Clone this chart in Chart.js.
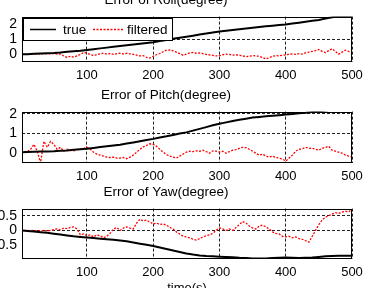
<!DOCTYPE html>
<html><head><meta charset="utf-8">
<script src="https://cdn.jsdelivr.net/npm/chart.js@4.4.1/dist/chart.umd.min.js"></script>
<style>
html,body{margin:0;padding:0;background:#fff;overflow:hidden;width:365px;height:288px;position:relative}
canvas{position:absolute}
</style></head><body>
<canvas id="c1" width="414" height="96" style="left:-20px;top:-10px"></canvas>
<canvas id="c2" width="414" height="102" style="left:-20px;top:85px"></canvas>
<canvas id="c3" width="414" height="117" style="left:-20px;top:182px"></canvas>
<script>
const titles = ["Error of Roll(degree)", "Error of Pitch(degree)", "Error of Yaw(degree)"];
const seriesNames = ["true", "filtered"];
const xAxisTitle = "time(s)";
const xTicks = [100, 200, 300, 400, 500];
const rollTicks = [0, 1, 2];
const pitchTicks = [0, 1, 2];
const yawTicks = [-0.5, 0, 0.5];
const rollGrid = [1];
const pitchGrid = [1, 2];
const yawGrid = [0, 0.5];

const timeTrue = [0,10,20,30,40,50,60,70,80,90,100,110,120,130,140,150,160,170,180,190,200,210,220,230,240,250,260,270,280,290,300,310,320,330,340,350,360,370,380,390,400,410,420,430,440,450,460,470,480,490,500];
const timeFiltered = [0,5,10,15,20,25,30,35,40,45,50,55,60,65,70,75,80,85,90,95,100,105,110,115,120,125,130,135,140,145,150,155,160,165,170,175,180,185,190,195,200,205,210,215,220,225,230,235,240,245,250,255,260,265,270,275,280,285,290,295,300,305,310,315,320,325,330,335,340,345,350,355,360,365,370,375,380,385,390,395,400,405,410,415,420,425,430,435,440,445,450,455,460,465,470,475,480,485,490,495,500];

const rollTrue = [0,0.02,0.04,0.06,0.08,0.1,0.13,0.17,0.21,0.25,0.3,0.35,0.4,0.45,0.5,0.55,0.6,0.65,0.7,0.75,0.8,0.88,0.96,1.03,1.1,1.17,1.24,1.31,1.38,1.45,1.52,1.57,1.62,1.67,1.72,1.77,1.82,1.86,1.9,1.94,1.98,2.04,2.1,2.16,2.22,2.28,2.37,2.46,2.5,2.5,2.5];
const rollFiltered = [0,0,0.02,0,0.03,0.02,0.05,0.03,0.06,0.04,0.06,0.02,0.03,-0.1,-0.2,-0.12,-0.18,-0.1,0,0.13,0.08,0,-0.07,-0.02,0.04,0.08,0.02,0.06,0,0.05,0.08,0.03,0.08,0.04,0,-0.05,-0.1,-0.08,-0.2,-0.24,-0.12,-0.02,0.06,0.18,0.28,0.3,0.24,0.15,0.05,-0.05,0.02,0.1,0.13,0.08,0.1,0.05,0,-0.03,-0.06,-0.1,-0.08,-0.02,0.02,0,-0.05,-0.02,-0.06,-0.1,-0.15,-0.12,-0.08,-0.1,-0.12,-0.2,-0.3,-0.22,-0.12,-0.08,-0.1,-0.05,-0.02,0,0.03,0,0.05,0.02,0.1,0.15,0.2,0.25,0.33,0.2,0.12,0.25,0.38,0.2,0.02,0.15,0.28,0.2,0.15];

const pitchTrue = [0.05,0.06,0.07,0.08,0.09,0.1,0.12,0.14,0.17,0.2,0.23,0.27,0.31,0.35,0.39,0.43,0.49,0.55,0.61,0.67,0.73,0.8,0.86,0.93,1,1.06,1.15,1.24,1.33,1.42,1.5,1.57,1.64,1.7,1.76,1.82,1.85,1.88,1.91,1.94,1.97,2,2.03,2.06,2.1,2.14,2.18,2.22,2.26,2.3,2.34];
const pitchFiltered = [0.05,0.06,0.08,0.2,0.45,0.1,-0.5,0.6,0.3,0.6,0.45,0.2,0.3,0.1,0.2,0.15,0.12,0.18,0.2,0.25,0.3,0.2,0.05,-0.05,-0.1,-0.15,-0.2,-0.22,-0.2,-0.25,-0.25,-0.22,-0.28,-0.2,-0.1,0.05,0.2,0.32,0.4,0.48,0.45,0.35,0.2,0.05,-0.07,-0.15,-0.2,-0.25,-0.15,-0.05,0.05,0.1,0.08,0.12,0.1,0.15,0.08,0,0.12,0.1,0.05,0.1,0,0.08,0.15,0.18,0.25,0.3,0.28,0.2,0.1,0,-0.1,-0.05,-0.15,-0.2,-0.15,-0.22,-0.25,-0.3,-0.4,-0.25,-0.1,0.1,0.2,0.22,0.3,0.25,0.25,0.2,0.15,0.25,0.3,0.35,0.15,0.1,0.05,0,-0.1,-0.15,-0.2];

const yawTrue = [0,-0.02,-0.04,-0.06,-0.08,-0.11,-0.14,-0.17,-0.2,-0.22,-0.24,-0.26,-0.28,-0.3,-0.32,-0.34,-0.37,-0.41,-0.45,-0.49,-0.53,-0.58,-0.63,-0.68,-0.73,-0.78,-0.82,-0.85,-0.87,-0.88,-0.89,-0.9,-0.91,-0.93,-0.94,-0.95,-0.95,-0.95,-0.94,-0.93,-0.92,-0.93,-0.94,-0.93,-0.92,-0.9,-0.88,-0.87,-0.86,-0.86,-0.86];
const yawFiltered = [0,0,0,-0.01,0,-0.02,-0.01,0,-0.02,0,0.03,0.05,0.02,0.08,0.06,0.1,0.12,0.05,-0.15,-0.12,-0.18,-0.15,-0.22,-0.15,-0.18,-0.25,-0.2,-0.1,0.05,0.1,0,0.08,0.12,0.08,0.05,0.25,0.38,0.32,0.35,0.28,0.22,0.25,0.2,0.22,0.18,0.1,0.05,-0.05,-0.12,-0.2,-0.22,-0.25,-0.3,-0.33,-0.28,-0.22,-0.18,-0.15,-0.1,0,0.08,0.05,0,0.05,0,0.1,0.2,0.3,0.25,0.15,0.08,0.05,0.15,0.18,0.12,0.05,-0.05,-0.1,-0.12,-0.2,-0.22,-0.2,-0.25,-0.22,-0.28,-0.3,-0.35,-0.4,-0.2,0,0.2,0.35,0.45,0.5,0.55,0.6,0.58,0.62,0.65,0.63,0.72];

Chart.defaults.font.family = "'Liberation Sans', Arial, sans-serif";
Chart.defaults.color = '#000';

const XFONT = {size: 13, weight: 'normal'};
const YFONT = {size: 14, weight: 'normal'};

const boxPlugin = {
  id: 'axesBox',
  afterDatasetsDraw(chart) {
    const a = chart.chartArea, ctx = chart.ctx;
    ctx.save();
    ctx.strokeStyle = '#000';
    ctx.lineWidth = 1;
    ctx.setLineDash([]);
    ctx.strokeRect(Math.round(a.left) + 0.5, Math.round(a.top) + 0.5, Math.round(a.right - a.left) - 1, Math.round(a.bottom - a.top) - 1);
    ctx.restore();
  }
};

const legendPlugin = {
  id: 'insideLegend',
  afterDraw(chart) {
    const a = chart.chartArea, ctx = chart.ctx;
    const ds = chart.data.datasets;
    const x0 = Math.round(a.left) + 1, y0 = Math.round(a.top) + 1, w = 150, h = 23;
    ctx.save();
    ctx.fillStyle = '#fff';
    ctx.fillRect(x0, y0, w, h);
    ctx.strokeStyle = '#000';
    ctx.lineWidth = 1;
    ctx.strokeRect(x0 + 0.5, y0 + 0.5, w - 1, h - 1);
    const cy = y0 + h / 2;
    ctx.font = "13.5px 'Liberation Sans', Arial, sans-serif";
    ctx.textBaseline = 'middle';
    ctx.fillStyle = '#000';
    ctx.strokeStyle = ds[0].borderColor; ctx.lineWidth = 1.5; ctx.setLineDash([]);
    ctx.beginPath(); ctx.moveTo(x0 + 7, cy); ctx.lineTo(x0 + 33, cy); ctx.stroke();
    ctx.fillText(ds[0].label, x0 + 40, cy + 1);
    ctx.strokeStyle = ds[1].borderColor; ctx.lineWidth = 1.5; ctx.setLineDash([2, 1.5]);
    ctx.beginPath(); ctx.moveTo(x0 + 70, cy); ctx.lineTo(x0 + 100, cy); ctx.stroke();
    ctx.setLineDash([]);
    ctx.fillText(ds[1].label, x0 + 104, cy + 1);
    ctx.restore();
  }
};

function pts(xs, ys) { return xs.map((x, i) => ({x: x, y: ys[i]})); }

function makeChart(id, title, tv, fv, yMin, yMax, yTicks, yGrid, opt) {
  const plugins = [boxPlugin];
  if (opt.legend) plugins.push(legendPlugin);
  return new Chart(document.getElementById(id), {
    type: 'line',
    data: {
      datasets: [
        {label: seriesNames[0], data: pts(timeTrue, tv), borderColor: '#000', borderWidth: 2, pointRadius: 0, tension: 0},
        {label: seriesNames[1], data: pts(timeFiltered, fv), borderColor: '#ff0000', borderWidth: 1.3, borderDash: [2, 1.5], pointRadius: 0, tension: 0}
      ]
    },
    options: {
      responsive: false,
      devicePixelRatio: 1,
      animation: false,
      events: [],
      layout: {padding: {left: 0, right: 42, top: 0, bottom: 0}},
      plugins: {
        legend: {display: false},
        tooltip: {enabled: false},
        title: {display: true, text: title, color: '#000', font: {size: 13.5, weight: 'normal'}, padding: {top: 2.4, bottom: 8}}
      },
      scales: {
        x: {
          type: 'linear', min: 2, max: 500,
          afterBuildTicks: s => { s.ticks = xTicks.map(v => ({value: v})); },
          afterFit: s => { s.height = opt.xh; },
          grid: {color: '#222', lineWidth: 1, drawTicks: false},
          border: {display: false, dash: [3, 2]},
          ticks: {color: '#000', font: XFONT, padding: 6, maxRotation: 0, autoSkip: false},
          title: opt.xtitle ? {display: true, text: xAxisTitle, color: '#000', font: XFONT, padding: {top: 0, bottom: 3}} : {display: false}
        },
        y: {
          min: yMin, max: yMax,
          afterBuildTicks: s => { s.ticks = yTicks.map(v => ({value: v})); },
          afterFit: s => { s.width = 42; },
          grid: {color: c => (c.tick && yGrid.includes(c.tick.value)) ? '#222' : 'rgba(0,0,0,0)', lineWidth: 1, drawTicks: false},
          border: {display: false, dash: [3, 2]},
          ticks: {color: '#000', font: YFONT, padding: 5}
        }
      }
    },
    plugins: plugins
  });
}

makeChart('c1', titles[0], rollTrue, rollFiltered, -0.5, 2.5, rollTicks, rollGrid, {legend: true, xh: 24});
makeChart('c2', titles[1], pitchTrue, pitchFiltered, -0.5, 2.12, pitchTicks, pitchGrid, {xh: 24});
makeChart('c3', titles[2], yawTrue, yawFiltered, -0.97, 0.74, yawTicks, yawGrid, {xh: 40, xtitle: true});
</script>
</body></html>
